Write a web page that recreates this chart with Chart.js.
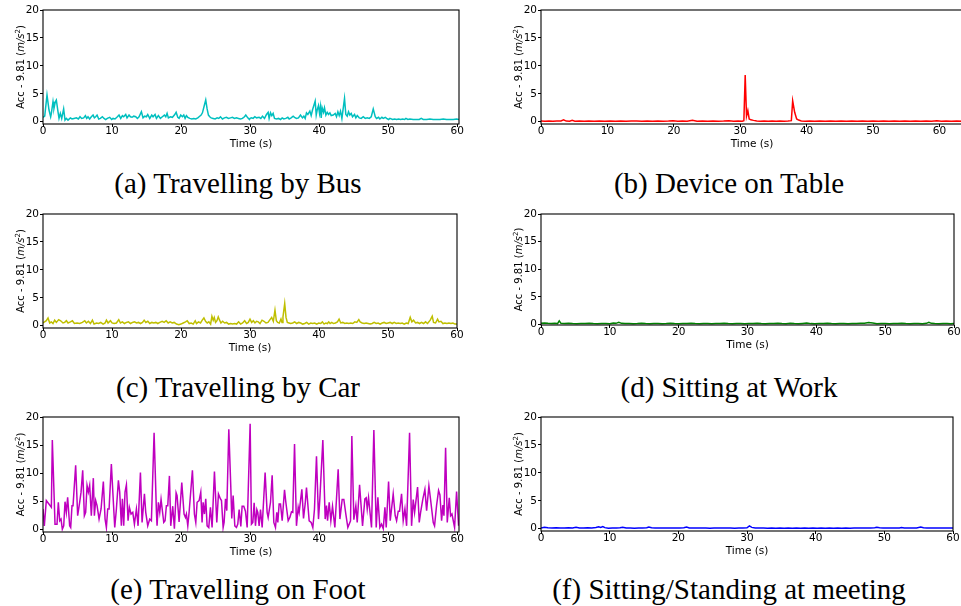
<!DOCTYPE html>
<html><head><meta charset="utf-8">
<script src="https://cdn.jsdelivr.net/npm/chart.js@4"></script>
<style>
html,body{margin:0;padding:0;background:#fff;width:961px;height:606px;overflow:hidden;position:relative}
canvas.pane{position:absolute}
.cap{position:absolute;width:500px;text-align:center;font-family:"Liberation Serif",serif;font-size:29px;line-height:29px;color:#000;white-space:nowrap}
</style></head><body>
<script>
const xTickValues=[0,10,20,30,40,50,60];
const yTickValues=[0,5,10,15,20];
const yAxisLabel=['Acc - 9.81 (','m/s','2',')'];
const xAxisLabel='Time (s)';
const captions=['(a) Travelling by Bus','(b) Device on Table','(c) Travelling by Car','(d) Sitting at Work','(e) Travelling on Foot','(f) Sitting/Standing at meeting'];

const busSamples=[[0,0.8],[0.25,1.0],[0.58,4.8],[0.87,2.1],[1.11,0.9],[1.21,1.5],[1.45,3.6],[1.59,2.4],[1.79,3.6],[1.93,3.9],[2.17,1.8],[2.32,0.6],[2.51,1.5],[2.71,0.6],[2.99,2.3],[3.19,0.3],[3.38,0.6],[3.62,0.3],[3.96,0.7],[4.2,0.5],[4.49,0.6],[4.83,0.7],[5.12,0.5],[5.36,0.9],[5.6,0.6],[5.89,0.7],[6.14,1.1],[6.33,0.6],[6.52,0.9],[6.76,0.5],[7.0,0.9],[7.25,1.2],[7.44,0.7],[7.63,0.9],[7.83,1.2],[8.07,0.5],[8.31,0.6],[8.6,0.9],[8.84,0.6],[9.08,0.4],[9.32,0.6],[9.66,0.8],[9.95,0.4],[10.14,0.6],[10.43,0.5],[10.77,0.9],[11.01,1.2],[11.26,0.6],[11.5,1.1],[11.69,0.9],[11.98,1.3],[12.17,0.7],[12.46,1.2],[12.66,0.9],[12.9,0.8],[13.14,1.0],[13.43,0.9],[13.67,0.6],[13.91,0.9],[14.25,1.8],[14.49,0.7],[14.73,1.0],[14.98,0.9],[15.17,1.3],[15.46,0.6],[15.75,1.2],[15.94,0.9],[16.23,1.3],[16.43,0.6],[16.71,1.1],[17.0,0.6],[17.29,0.9],[17.58,1.2],[17.78,0.9],[17.97,1.5],[18.16,0.7],[18.45,0.9],[18.74,0.8],[19.03,1.2],[19.28,1.7],[19.52,0.8],[19.71,0.6],[19.95,1.2],[20.19,0.9],[20.39,1.2],[20.58,0.6],[20.77,1.1],[20.97,0.8],[21.26,0.6],[21.55,0.5],[21.84,0.6],[22.13,0.5],[22.42,0.7],[22.61,0.9],[22.9,1.2],[23.09,1.6],[23.38,3.0],[23.57,3.9],[23.77,2.3],[23.96,1.2],[24.15,0.9],[24.35,0.7],[24.64,0.6],[24.93,0.5],[25.22,0.7],[25.46,0.6],[25.7,0.9],[25.99,0.5],[26.28,0.7],[26.57,0.8],[26.86,0.6],[27.15,0.7],[27.44,0.8],[27.73,0.6],[28.02,0.7],[28.31,0.6],[28.6,0.5],[28.89,0.6],[29.18,0.9],[29.37,1.2],[29.66,0.7],[29.9,0.4],[30.0,0.6],[30.19,0.7],[30.43,0.6],[30.68,0.9],[30.92,0.7],[31.3,0.8],[31.55,0.6],[31.79,1.0],[32.08,0.6],[32.37,1.3],[32.61,1.7],[32.75,0.6],[32.95,1.6],[33.14,1.1],[33.33,1.5],[33.53,0.6],[33.82,0.5],[34.11,0.6],[34.4,0.4],[34.64,0.7],[34.88,0.5],[35.17,0.6],[35.46,0.8],[35.65,0.5],[35.94,0.7],[36.23,1.0],[36.43,0.8],[36.71,0.6],[37.0,0.7],[37.29,1.2],[37.58,0.7],[37.78,1.0],[37.97,0.6],[38.16,1.6],[38.36,1.3],[38.65,1.9],[38.84,1.1],[39.03,2.1],[39.42,3.7],[39.57,1.2],[39.71,2.1],[39.9,2.9],[40.05,1.5],[40.19,2.7],[40.29,0.7],[40.43,2.5],[40.63,1.7],[40.77,2.5],[40.97,1.2],[41.16,1.7],[41.35,1.3],[41.55,1.6],[41.74,1.1],[42.03,1.2],[42.32,1.5],[42.51,0.9],[42.71,1.8],[42.9,1.1],[43.09,1.9],[43.29,0.6],[43.67,4.2],[43.86,1.3],[44.06,1.0],[44.25,1.8],[44.44,1.2],[44.64,1.5],[44.83,0.9],[45.12,1.3],[45.31,0.7],[45.51,1.1],[45.8,0.7],[46.09,0.6],[46.38,0.9],[46.67,0.6],[46.96,0.7],[47.25,0.6],[47.54,0.9],[47.83,2.3],[48.12,0.9],[48.31,0.6],[48.6,0.8],[48.79,0.5],[49.08,0.8],[49.28,0.6],[49.57,0.8],[49.76,0.6],[50.05,0.4],[50.24,0.6],[50.63,0.4],[50.92,0.5],[51.21,0.4],[51.5,0.5],[51.79,0.4],[52.08,0.5],[52.37,0.4],[52.56,0.6],[52.85,0.4],[53.14,0.5],[53.62,0.4],[54.11,0.4],[54.49,0.4],[54.78,0.6],[55.07,0.4],[55.56,0.4],[56.04,0.5],[56.52,0.4],[57.0,0.4],[57.49,0.4],[57.97,0.5],[58.45,0.4],[58.94,0.4],[59.42,0.4],[59.9,0.5],[60.25,0.4]];

const tableSamples=[[0,0.12],[0.6,0.1],[1.2,0.14],[1.8,0.1],[2.4,0.12],[3.0,0.15],[3.4,0.35],[3.8,0.12],[4.3,0.1],[4.7,0.25],[5.1,0.1],[5.8,0.13],[6.5,0.1],[7.2,0.14],[8.0,0.1],[8.8,0.12],[9.6,0.1],[10.4,0.13],[11.2,0.1],[12.0,0.12],[12.8,0.1],[13.6,0.12],[14.4,0.15],[15.2,0.1],[16.0,0.13],[16.8,0.1],[17.6,0.12],[18.4,0.1],[19.2,0.12],[19.9,0.2],[20.6,0.1],[21.3,0.15],[22.0,0.1],[22.8,0.28],[23.5,0.1],[24.3,0.12],[25.1,0.1],[25.9,0.13],[26.7,0.1],[27.5,0.12],[28.3,0.18],[29.0,0.1],[29.7,0.12],[30.3,0.1],[30.55,0.2],[30.75,8.35],[30.95,1.0],[31.15,2.0],[31.35,0.5],[31.6,0.35],[32.0,0.25],[32.5,0.15],[33.0,0.1],[33.6,0.12],[34.2,0.1],[34.8,0.12],[35.4,0.1],[36.0,0.12],[36.6,0.1],[37.2,0.12],[37.7,0.2],[37.9,3.75],[38.2,1.7],[38.5,0.5],[38.8,0.3],[39.2,0.15],[39.8,0.1],[40.5,0.12],[41.2,0.1],[42.0,0.13],[42.8,0.1],[43.6,0.12],[44.4,0.1],[45.2,0.13],[46.0,0.1],[46.8,0.12],[47.6,0.1],[48.4,0.13],[49.2,0.1],[50.0,0.12],[50.8,0.1],[51.6,0.12],[52.4,0.1],[53.2,0.13],[54.0,0.1],[54.8,0.12],[55.6,0.1],[56.4,0.13],[57.2,0.1],[58.0,0.12],[58.8,0.1],[59.6,0.18],[60.3,0.1],[61.0,0.12],[61.8,0.1],[62.6,0.12],[63.5,0.1]];

const carSamples=[[0,0.5],[0.48,0.9],[0.73,1.4],[0.97,0.5],[1.21,0.7],[1.45,0.4],[1.69,1.0],[1.94,0.6],[2.27,1.1],[2.56,0.9],[2.9,0.5],[3.14,0.6],[3.39,0.9],[3.63,0.5],[3.97,0.7],[4.26,0.9],[4.55,0.4],[4.93,0.5],[5.32,0.4],[5.71,0.6],[6.05,0.9],[6.29,0.5],[6.58,0.8],[6.87,0.4],[7.16,1.0],[7.4,0.3],[7.74,0.5],[8.08,0.4],[8.37,0.6],[8.71,0.3],[9.0,0.5],[9.19,1.0],[9.43,0.5],[9.77,0.9],[10.01,0.5],[10.3,0.4],[10.64,0.5],[10.98,1.1],[11.22,0.5],[11.51,0.7],[11.8,0.4],[12.09,0.6],[12.39,0.7],[12.68,0.4],[12.97,0.6],[13.26,0.7],[13.55,0.5],[13.84,0.6],[14.13,0.4],[14.42,0.6],[14.66,1.0],[14.9,0.6],[15.19,0.8],[15.48,0.4],[15.77,0.6],[16.06,0.5],[16.35,0.6],[16.64,0.4],[16.93,0.6],[17.27,0.8],[17.56,0.6],[17.85,0.9],[18.14,0.5],[18.43,0.7],[18.72,0.5],[19.01,0.6],[19.35,0.3],[19.69,0.2],[19.98,0.3],[20.32,0.5],[20.66,0.7],[20.9,0.9],[21.19,0.4],[21.48,0.5],[21.77,0.3],[22.06,0.9],[22.25,0.4],[22.54,0.7],[22.83,0.5],[23.08,1.0],[23.32,1.4],[23.56,0.8],[23.8,0.5],[24.04,0.7],[24.29,0.3],[24.48,1.7],[24.67,1.0],[24.82,1.5],[25.01,0.6],[25.21,0.9],[25.4,1.6],[25.59,1.0],[25.79,0.5],[26.03,0.8],[26.32,0.5],[26.61,0.6],[26.9,0.3],[27.19,0.4],[27.48,0.3],[27.77,0.4],[28.06,0.3],[28.35,0.7],[28.64,0.3],[28.93,0.5],[29.22,0.9],[29.51,0.4],[29.75,0.6],[30.0,1.2],[30.24,0.6],[30.48,0.9],[30.72,0.5],[30.96,0.8],[31.2,0.7],[31.45,0.4],[31.74,1.0],[32.03,0.8],[32.32,0.5],[32.61,0.6],[32.9,1.1],[33.14,1.5],[33.38,0.8],[33.62,2.8],[33.82,0.9],[34.01,0.6],[34.25,0.5],[34.49,1.2],[34.64,0.6],[34.78,1.6],[35.03,4.0],[35.22,1.5],[35.41,0.6],[35.66,0.5],[35.9,0.4],[36.19,0.5],[36.48,0.7],[36.77,0.4],[37.06,0.6],[37.35,0.5],[37.64,0.3],[37.93,0.4],[38.22,0.6],[38.51,0.3],[38.8,0.5],[39.09,0.4],[39.38,0.5],[39.67,0.3],[39.96,0.5],[40.25,0.4],[40.49,0.7],[40.74,0.3],[40.98,0.5],[41.22,0.4],[41.41,0.7],[41.61,0.4],[41.85,0.6],[42.09,0.4],[42.38,0.5],[42.67,0.7],[42.91,1.2],[43.15,0.5],[43.44,0.6],[43.74,0.4],[44.03,0.5],[44.32,0.4],[44.61,0.5],[44.9,0.4],[45.19,0.7],[45.48,0.6],[45.77,1.1],[45.96,0.7],[46.25,0.5],[46.54,0.4],[46.83,0.5],[47.12,0.4],[47.41,0.3],[47.7,0.4],[47.99,0.6],[48.28,0.4],[48.57,0.5],[48.86,0.3],[49.15,0.5],[49.44,0.6],[49.73,0.4],[50.02,0.5],[50.31,0.6],[50.61,0.4],[50.9,0.6],[51.19,0.4],[51.48,0.5],[51.77,0.4],[52.06,0.5],[52.35,0.3],[52.64,0.5],[52.93,0.4],[53.22,1.5],[53.46,0.7],[53.7,1.0],[53.99,0.5],[54.28,0.6],[54.57,0.4],[54.86,0.6],[55.15,0.4],[55.44,0.7],[55.73,0.4],[56.12,1.0],[56.41,1.7],[56.6,0.6],[56.89,0.5],[57.18,1.2],[57.38,0.7],[57.67,0.8],[57.96,0.4],[58.25,0.5],[58.54,0.4],[58.83,0.5],[59.12,0.4],[59.41,0.5],[59.7,0.3],[60.0,0.3]];

const workSamples=[[0,0.2],[0.5,0.28],[1.0,0.2],[1.5,0.15],[2.0,0.2],[2.4,0.15],[2.65,0.65],[2.9,0.2],[3.4,0.15],[4.0,0.2],[4.6,0.15],[5.2,0.12],[5.8,0.18],[6.4,0.15],[7.0,0.2],[7.6,0.15],[8.2,0.12],[8.8,0.18],[9.4,0.15],[10.0,0.12],[10.5,0.25],[10.9,0.2],[11.3,0.4],[11.7,0.2],[12.2,0.15],[12.8,0.18],[13.4,0.12],[14.0,0.15],[14.6,0.2],[15.2,0.15],[15.8,0.12],[16.4,0.18],[17.0,0.15],[17.6,0.12],[18.2,0.15],[18.8,0.2],[19.4,0.15],[20.0,0.12],[20.6,0.18],[21.2,0.15],[21.8,0.2],[22.4,0.15],[23.0,0.12],[23.6,0.18],[24.2,0.15],[24.8,0.12],[25.4,0.18],[26.0,0.15],[26.6,0.2],[27.2,0.15],[27.8,0.12],[28.4,0.18],[29.0,0.15],[29.6,0.12],[30.2,0.18],[30.8,0.15],[31.4,0.2],[32.0,0.15],[32.6,0.12],[33.2,0.18],[33.8,0.15],[34.4,0.22],[35.0,0.15],[35.6,0.12],[36.2,0.2],[36.8,0.15],[37.4,0.12],[38.0,0.18],[38.6,0.25],[39.2,0.15],[39.8,0.12],[40.4,0.18],[41.0,0.15],[41.6,0.2],[42.2,0.15],[42.8,0.12],[43.4,0.18],[44.0,0.15],[44.6,0.12],[45.2,0.18],[45.8,0.15],[46.4,0.2],[47.0,0.2],[47.6,0.35],[48.2,0.25],[48.8,0.12],[49.4,0.18],[50.0,0.15],[50.6,0.12],[51.2,0.18],[51.8,0.15],[52.4,0.2],[53.0,0.15],[53.6,0.12],[54.2,0.18],[54.8,0.15],[55.4,0.12],[56.0,0.2],[56.35,0.4],[56.7,0.2],[57.2,0.15],[57.8,0.12],[58.4,0.18],[59.0,0.15],[59.5,0.12],[60.0,0.15]];

const footSamples=[[0,3.6],[0.19,0.6],[0.48,5.1],[1.21,3.9],[1.35,15.9],[1.74,0.9],[2.03,0.9],[2.22,4.8],[2.42,1.5],[2.61,1.8],[2.8,0.0],[3.0,0.6],[3.19,4.9],[3.38,3.0],[3.57,5.7],[3.86,0.6],[4.01,0.3],[4.2,4.2],[4.35,4.2],[4.73,11.4],[5.02,2.4],[5.31,4.8],[5.51,6.6],[5.75,10.5],[5.99,2.4],[6.18,3.0],[6.38,7.8],[6.57,6.6],[6.76,7.8],[7.0,2.4],[7.29,9.1],[7.44,2.4],[7.63,5.1],[7.83,4.2],[8.12,1.8],[8.41,3.6],[8.74,8.5],[8.99,1.8],[9.18,0.3],[9.37,3.6],[9.57,3.6],[9.9,11.6],[10.14,6.0],[10.39,0.3],[10.63,3.6],[10.92,8.7],[11.11,6.6],[11.35,0.6],[11.5,5.4],[11.69,0.6],[11.88,6.6],[12.08,7.9],[12.32,1.5],[12.51,3.9],[12.75,2.7],[13.0,3.0],[13.24,0.9],[13.53,3.6],[13.77,0.6],[14.11,10.1],[14.35,1.2],[14.69,6.3],[14.88,3.0],[15.17,0.6],[15.46,1.8],[15.7,1.5],[16.09,17.2],[16.43,3.0],[16.52,0.6],[16.71,4.8],[16.91,3.0],[17.1,5.3],[17.49,1.2],[17.68,1.5],[17.87,4.2],[18.07,4.2],[18.31,9.5],[18.5,0.6],[18.79,4.1],[19.03,0.1],[19.28,6.5],[19.42,6.0],[19.71,1.3],[20.1,8.3],[20.43,2.7],[20.63,2.1],[20.77,2.7],[20.97,0.6],[21.16,3.0],[21.64,10.5],[21.93,2.7],[22.13,1.2],[22.32,4.8],[22.61,5.1],[22.85,6.6],[23.04,1.2],[23.19,4.8],[23.38,2.7],[23.57,5.4],[23.77,0.6],[24.01,0.3],[24.25,3.9],[24.49,0.3],[24.83,10.3],[25.17,1.2],[25.41,6.3],[25.7,5.4],[25.85,5.1],[26.09,0.3],[26.23,1.2],[26.43,5.4],[26.62,3.3],[26.91,17.8],[27.2,7.5],[27.34,1.9],[27.54,6.0],[27.78,0.6],[28.02,0.3],[28.21,0.9],[28.41,3.5],[28.65,0.5],[28.84,4.1],[29.08,4.1],[29.32,3.2],[29.57,0.3],[30.0,18.8],[30.19,0.9],[30.39,1.2],[30.58,4.7],[30.77,0.6],[30.97,3.5],[31.11,3.0],[31.3,0.6],[31.5,3.5],[31.74,0.3],[32.17,10.1],[32.46,3.0],[32.61,2.1],[32.95,4.8],[33.19,9.6],[33.43,1.2],[33.67,0.3],[33.86,3.0],[34.01,1.2],[34.2,4.5],[34.4,4.5],[34.64,1.5],[34.98,7.0],[35.17,4.8],[35.51,1.5],[35.75,2.1],[35.99,3.1],[36.18,3.0],[36.43,15.2],[36.71,0.6],[36.96,3.9],[37.1,3.0],[37.49,7.1],[37.73,1.9],[37.97,4.5],[38.16,7.4],[38.55,1.5],[38.84,1.2],[39.08,0.3],[39.32,3.6],[39.61,13.0],[39.9,1.8],[40.1,5.5],[40.53,15.9],[40.87,1.8],[41.06,4.2],[41.21,1.5],[41.45,4.8],[41.69,1.5],[41.93,4.1],[42.27,0.3],[42.75,10.7],[43.0,1.8],[43.33,5.3],[43.57,5.3],[43.86,2.7],[44.15,0.3],[44.54,1.5],[44.73,16.6],[45.02,1.7],[45.31,4.2],[45.51,1.2],[45.85,7.9],[46.28,0.6],[46.62,5.4],[46.81,5.6],[46.96,3.6],[47.15,5.6],[47.58,0.3],[47.92,17.7],[48.26,0.3],[48.5,5.7],[48.79,0.3],[49.03,0.9],[49.28,0.1],[49.52,3.9],[49.71,0.3],[50.05,8.5],[50.29,1.5],[50.72,6.3],[51.01,2.4],[51.21,1.5],[51.45,3.2],[51.64,3.2],[51.93,6.3],[52.17,1.5],[52.42,3.6],[52.66,0.6],[53.09,17.2],[53.38,0.6],[53.62,5.3],[53.82,3.0],[54.25,7.5],[54.49,1.2],[54.69,3.0],[55.02,5.4],[55.31,7.1],[55.56,3.3],[55.89,7.7],[56.13,5.3],[56.52,1.2],[56.71,0.6],[57.0,4.2],[57.29,6.9],[57.49,6.1],[57.73,1.5],[57.92,4.3],[58.07,2.4],[58.31,14.5],[58.55,1.2],[58.84,5.6],[59.03,2.4],[59.23,2.7],[59.61,0.3],[59.9,6.7],[60.19,0.6]];

const meetingSamples=[[0,0.15],[0.5,0.25],[1.0,0.18],[1.6,0.15],[2.2,0.2],[2.8,0.15],[3.4,0.12],[4.0,0.18],[4.6,0.15],[5.1,0.28],[5.6,0.15],[6.2,0.12],[6.8,0.2],[7.4,0.15],[8.0,0.22],[8.4,0.35],[8.7,0.25],[9.0,0.4],[9.3,0.2],[9.8,0.1],[10.4,0.15],[11.0,0.12],[11.5,0.18],[11.9,0.25],[12.4,0.12],[13.0,0.15],[13.6,0.1],[14.2,0.15],[14.8,0.12],[15.4,0.18],[15.7,0.32],[16.1,0.18],[16.6,0.15],[17.2,0.12],[17.8,0.15],[18.4,0.12],[19.0,0.15],[19.6,0.12],[20.2,0.15],[20.8,0.18],[21.2,0.32],[21.6,0.15],[22.2,0.12],[22.8,0.15],[23.4,0.12],[24.0,0.15],[24.6,0.1],[25.2,0.15],[25.8,0.12],[26.4,0.15],[27.0,0.12],[27.6,0.15],[28.2,0.1],[28.8,0.15],[29.4,0.12],[30.0,0.18],[30.35,0.5],[30.7,0.25],[31.2,0.15],[31.8,0.12],[32.4,0.15],[33.0,0.1],[33.6,0.12],[34.2,0.1],[34.8,0.12],[35.4,0.1],[36.0,0.15],[36.6,0.1],[37.2,0.12],[37.8,0.1],[38.4,0.12],[39.0,0.1],[39.6,0.12],[40.2,0.1],[40.8,0.12],[41.4,0.1],[42.0,0.12],[42.6,0.1],[43.2,0.12],[43.8,0.1],[44.4,0.12],[45.0,0.1],[45.6,0.12],[46.2,0.15],[46.8,0.12],[47.4,0.15],[48.0,0.12],[48.6,0.18],[48.9,0.28],[49.3,0.18],[49.8,0.15],[50.4,0.12],[51.0,0.15],[51.6,0.12],[52.2,0.15],[52.5,0.22],[52.9,0.15],[53.5,0.12],[54.1,0.15],[54.7,0.15],[55.3,0.3],[55.7,0.18],[56.2,0.15],[56.8,0.12],[57.4,0.15],[58.0,0.12],[58.6,0.15],[59.2,0.12],[60.0,0.15]];

// layout / style per panel (plot box: left, top, right, bottom in px)
const panels=[
 {samples:busSamples,    color:'#00bfbf', caption:captions[0], box:[43,10,459,124],  xMax:60.25, yMin:-0.4,  capCx:238, capBase:193},
 {samples:tableSamples,  color:'#ff0000', caption:captions[1], box:[541,10,963,124], xMax:63.55, yMin:-0.4,  capCx:729, capBase:193},
 {samples:carSamples,    color:'#bfbf00', caption:captions[2], box:[43,214,457,328], xMax:60,    yMin:-0.4,  capCx:238, capBase:397},
 {samples:workSamples,   color:'#008000', caption:captions[3], box:[541,214,954,325],xMax:60,    yMin:-0.1,  capCx:729, capBase:397},
 {samples:footSamples,   color:'#bf00bf', caption:captions[4], box:[43,417,459,532], xMax:60.25, yMin:-0.5,  capCx:238, capBase:599},
 {samples:meetingSamples,color:'#0000ff', caption:captions[5], box:[541,417,953,531],xMax:60,    yMin:-0.4,  capCx:729, capBase:599}
];

const Y_W=43, PAD_T=10, PAD_R=14, X_H=30;
const tickFont={family:'DejaVu Sans',size:10.5,lineHeight:1};

const framePlugin={
  id:'frame',
  afterDraw(chart){
    const {ctx,chartArea:a}=chart;
    ctx.save();
    ctx.strokeStyle='#000';ctx.lineWidth=1.1;
    ctx.strokeRect(a.left,a.top,a.right-a.left,a.bottom-a.top);
    ctx.fillStyle='#000';
    ctx.font='10.5px "DejaVu Sans"';ctx.textAlign='center';ctx.textBaseline='middle';
    ctx.fillText(xAxisLabel,(a.left+a.right)/2,a.bottom+20);
    const parts=[
      {t:yAxisLabel[0],f:'10px "DejaVu Sans"',dy:0},
      {t:yAxisLabel[1],f:'italic 10px "DejaVu Sans"',dy:0},
      {t:yAxisLabel[2],f:'7px "DejaVu Sans"',dy:-4},
      {t:yAxisLabel[3],f:'10px "DejaVu Sans"',dy:0}];
    let total=0;
    parts.forEach(p=>{ctx.font=p.f;p.w=ctx.measureText(p.t).width;total+=p.w;});
    ctx.translate(a.left-23,(a.top+a.bottom)/2);
    ctx.rotate(-Math.PI/2);
    ctx.textAlign='left';ctx.textBaseline='alphabetic';
    let x=-total/2;
    parts.forEach(p=>{ctx.font=p.f;ctx.fillText(p.t,x,3.6+p.dy);x+=p.w;});
    ctx.restore();
  }
};

panels.forEach(p=>{
  const [l,t,r,b]=p.box;
  const cv=document.createElement('canvas');
  cv.className='pane';
  const W=Y_W+(r-l)+PAD_R, H=PAD_T+(b-t)+X_H;
  cv.width=W;cv.height=H;
  cv.style.left=(l-Y_W)+'px';cv.style.top=(t-PAD_T)+'px';
  cv.style.width=W+'px';cv.style.height=H+'px';
  document.body.appendChild(cv);

  const cap=document.createElement('div');
  cap.className='cap';
  cap.textContent=p.caption;
  cap.style.left=(p.capCx-250)+'px';
  cap.style.top=(p.capBase-24.3)+'px';
  document.body.appendChild(cap);

  const grid={display:true,drawOnChartArea:false,drawTicks:true,tickLength:3,color:'#000',lineWidth:1};
  new Chart(cv,{
    type:'line',
    data:{datasets:[{
      data:p.samples.map(s=>({x:s[0],y:s[1]})),
      borderColor:p.color,borderWidth:1.5,pointRadius:0,tension:0,fill:false
    }]},
    options:{
      responsive:false,animation:false,devicePixelRatio:1,
      layout:{padding:{top:PAD_T,right:PAD_R,left:0,bottom:0}},
      plugins:{legend:{display:false},tooltip:{enabled:false}},
      scales:{
        x:{type:'linear',min:0,max:p.xMax,
           afterBuildTicks:s=>{s.ticks=xTickValues.map(v=>({value:v}));},
           afterFit:s=>{s.height=X_H;},
           grid:grid,border:{display:false},
           ticks:{font:tickFont,color:'#000',padding:-1,maxRotation:0,autoSkip:false}},
        y:{type:'linear',min:p.yMin,max:20,
           afterBuildTicks:s=>{s.ticks=yTickValues.map(v=>({value:v}));},
           afterFit:s=>{s.width=Y_W;},
           grid:grid,border:{display:false},
           ticks:{font:tickFont,color:'#000',padding:1,autoSkip:false}}
      }
    },
    plugins:[framePlugin]
  });
});
</script>
</body></html>
